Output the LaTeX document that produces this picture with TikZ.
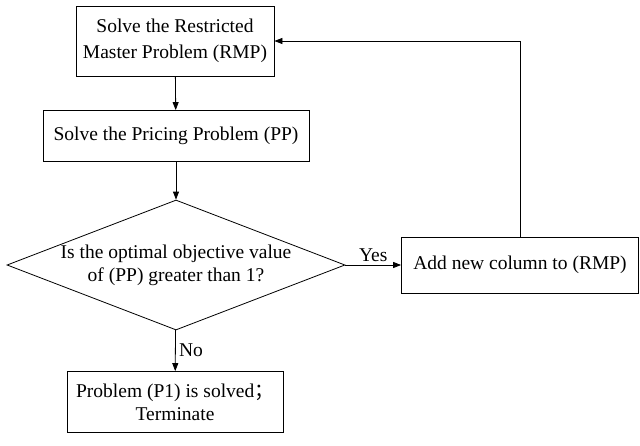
\documentclass[tikz,border=0pt]{standalone}
\usepackage{fontspec}
\setmainfont{Liberation Serif}
\newfontfamily\cjkfont{Noto Sans CJK SC}
\usepackage{tikz}
\usetikzlibrary{shapes, shapes.geometric, arrows.meta, positioning}

\begin{document}
\begin{tikzpicture}
  [
    x=1pt, y=-1pt,
    font=\fontsize{19.5}{23}\selectfont,
    Box/.style={rectangle, draw=black, line width=0.8pt, align=center, inner sep=2pt},
    Choice/.style={diamond, draw=black, line width=0.8pt, align=center, aspect=2.6, inner sep=-2pt},
    Flow/.style={-{Triangle[length=8pt, width=6pt]}, draw, line width=0.8pt}
  ]
  \useasboundingbox (0, 0) rectangle (640, 445);
  % Nodes
  \node[Box, minimum width=198pt, minimum height=70pt,
    font=\fontsize{19.5}{26}\selectfont] (rmp) at(175, 41)
    {Solve the Restricted\\Master Problem (RMP)};
  \node[Box, minimum width=266pt, minimum height=51pt] (pp) at(176, 136)
    {Solve the Pricing Problem (PP)};
  \node[Choice, minimum width=338pt, minimum height=130pt] (check) at(176, 265)
    {Is the optimal objective value\\of (PP) greater than 1?};
  \node[Box, minimum width=237pt, minimum height=56pt] (addcol) at(520, 265)
    {Add new column to (RMP)};
  \node[Box, minimum width=216pt, minimum height=61pt] (stop) at(175, 402)
    {Problem (P1) is solved{\cjkfont ；}\\Terminate};
  % Lines
  \path [Flow] (rmp) -- (pp);
  \path [Flow] (pp) -- (check);
  \path [Flow] (check) -- node[above] {Yes} (addcol);
  \path [Flow] (check) -- node[right] {No} (stop);
  \path [Flow] (addcol.north) |- (rmp.east);
\end{tikzpicture}
\end{document}
